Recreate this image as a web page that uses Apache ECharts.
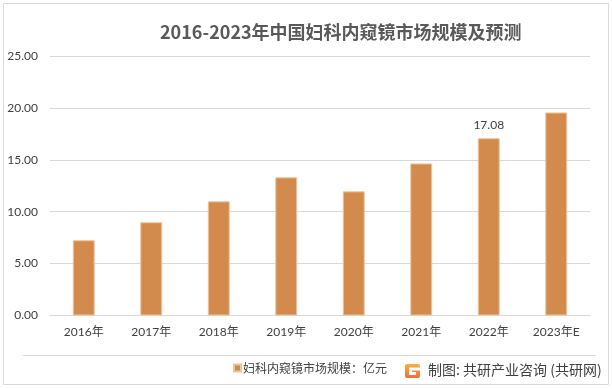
<!DOCTYPE html>
<html><head><meta charset="utf-8">
<script src="https://cdn.jsdelivr.net/npm/echarts@6/dist/echarts.min.js"></script>
<style>html,body{margin:0;padding:0;background:#fff}#c{width:612px;height:389px}</style>
</head><body><div id="c"></div>
<script>
const categories = ['2016年','2017年','2018年','2019年','2020年','2021年','2022年','2023年E'];
const values = [7.25, 8.98, 11.00, 13.31, 11.96, 14.65, 17.08, 19.56];
const yTicks = [0, 5, 10, 15, 20, 25];
const seriesName = '妇科内窥镜市场规模：亿元';
const titleText = '2016-2023年中国妇科内窥镜市场规模及预测';
const sourceText = '制图: 共研产业咨询 (共研网)';
const labelIndex = 6;

const numFont = "Lato, 'Noto Sans CJK SC', sans-serif";
const cjkFont = "'Noto Sans CJK SC', sans-serif";
const chart = echarts.init(document.getElementById('c'), null, {renderer: 'canvas'});
chart.setOption({
  animation: false,
  backgroundColor: '#fff',
  title: {
    text: titleText, left: 155, top: 18,
    textStyle: {fontFamily: cjkFont, fontSize: 18, fontWeight: 'bold', color: '#595959'}
  },
  legend: {
    data: [seriesName], left: 228, top: 357, itemWidth: 7, itemHeight: 7, itemGap: 4,
    icon: 'rect',
    textStyle: {fontFamily: cjkFont, fontSize: 12, color: '#404040', padding: [0,0,0,-3]}
  },
  grid: {left: 50, right: 22, top: 56, bottom: 73.5},
  xAxis: {
    type: 'category', data: categories,
    axisLine: {lineStyle: {color: '#d9d9d9'}}, axisTick: {show: false},
    axisLabel: {fontFamily: numFont, fontSize: 12, color: '#404040', margin: 11}
  },
  yAxis: {
    type: 'value', min: yTicks[0], max: yTicks[yTicks.length-1], interval: 5,
    axisLine: {show: false}, axisTick: {show: false},
    splitLine: {lineStyle: {color: '#d9d9d9'}},
    axisLabel: {fontFamily: numFont, fontSize: 12, color: '#404040', margin: 12,
      formatter: v => v.toFixed(2)}
  },
  series: [{
    name: seriesName, type: 'bar', barWidth: '32.5%',
    itemStyle: {color: '#D38B4D', borderColor: '#EFC39B', borderWidth: 1},
    data: values.map((v, i) => i === labelIndex ? {value: v, label: {show: true}} : v),
    label: {show: false, position: 'top', distance: 7, fontFamily: numFont, fontSize: 12, color: '#404040',
      formatter: p => p.value.toFixed(2)}
  }],
  graphic: [
    {type: 'rect', shape: {x: 3.5, y: 3.5, width: 605, height: 381}, style: {fill: 'none', stroke: '#d9d9d9', lineWidth: 1}, z: -1},
    {type: 'line', shape: {x1: 23, y1: 355.5, x2: 596, y2: 355.5}, style: {stroke: '#d9d9d9', lineWidth: 1}},
    {type: 'group', left: 405, top: 364, children: [
      {type: 'rect', shape: {x: 0, y: 0, width: 15, height: 14, r: 2},
        style: {fill: new echarts.graphic.LinearGradient(0,0,0,1,[{offset:0,color:'#FBB040'},{offset:1,color:'#F26B3A'}])}},
      {type: 'rect', shape: {x: 4, y: 3.5, width: 11, height: 3}, style: {fill: '#fff'}},
      {type: 'rect', shape: {x: 4, y: 6.5, width: 3, height: 4.5}, style: {fill: '#fff'}},
      {type: 'rect', shape: {x: 7, y: 8, width: 4, height: 3}, style: {fill: '#fff'}}
    ]},
    {type: 'text', left: 428, top: 363, style: {text: sourceText, font: "14px 'Noto Sans CJK SC', sans-serif", fill: '#404040'}}
  ]
});
</script></body></html>
